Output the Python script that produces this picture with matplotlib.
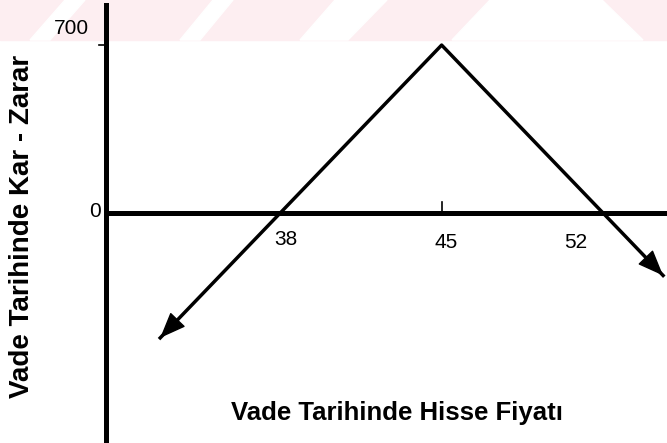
import matplotlib.pyplot as plt
from matplotlib.patches import Polygon, Rectangle

# payoff at expiry (butterfly-like)
price = [32.8, 38, 45, 52, 54.6]
profit = [-520, 0, 700, 0, -260]
xtick_vals = [38, 45, 52]
xtick_labels = ['38', '45', '52']
ytick_vals = [0, 700]
ytick_labels = ['0', '700']

plt.rcParams['font.family'] = ['Liberation Sans', 'DejaVu Sans']

W, H = 667, 443
fig = plt.figure(figsize=(W / 100, H / 100), dpi=100)


def px(x, y):
    return (x / W, 1 - y / H)


# faint pink watermark band at the top
pink = '#fdeef1'
fig.patches.append(Rectangle(px(0, 40), 1, 40 / H, transform=fig.transFigure,
                             color=pink, zorder=-5))
for b0, b1, t0, t1 in [(30, 50, 65, 85), (180, 200, 213, 233), (300, 348, 335, 387),
                       (452, 643, 490, 602)]:
    fig.patches.append(Polygon([px(b0, 40), px(b1, 40), px(t1, 0), px(t0, 0)],
                               closed=True, transform=fig.transFigure, color='white',
                               zorder=-4))

ax = fig.add_axes([106 / W, 0, 1 - 106 / W, (H - 5) / H])
ax.patch.set_alpha(0)
x0, x1 = 30.45, 54.77
ax.set_xlim(x0, x1)
ax.set_ylim(-958, 867)
for s in ['top', 'right', 'bottom']:
    ax.spines[s].set_visible(False)
ax.spines['left'].set_linewidth(3.6)
ax.set_xticks([])
ax.set_yticks([])

ax.axhline(0, color='black', lw=3.6, zorder=2)
ax.plot(price, profit, color='black', lw=2.5, zorder=3)

# arrow heads at both ends
head = '-|>,head_length=0.55,head_width=0.22'
ax.annotate('', xy=(price[0], profit[0]), xytext=(price[1], profit[1]),
            arrowprops=dict(arrowstyle=head, color='black', lw=1, mutation_scale=30,
                            shrinkA=0, shrinkB=0), zorder=4)
ax.annotate('', xy=(price[-1], profit[-1]), xytext=(price[-2], profit[-2]),
            arrowprops=dict(arrowstyle=head, color='black', lw=1, mutation_scale=30,
                            shrinkA=0, shrinkB=0), zorder=4)

# small tick marks
ax.plot([45, 45], [0, 45], color='black', lw=1.2)
ax.plot([x0 - 0.3, x0], [700, 700], color='black', lw=1.2, clip_on=False)

offsets = [(4, -12), (3, -14), (-20, -14)]
for v, lab, off in zip(xtick_vals, xtick_labels, offsets):
    ax.annotate(lab, xy=(v, 0), xytext=off, textcoords='offset points',
                ha='center', va='top', fontsize=15)
for v, lab, off in zip(ytick_vals, ytick_labels, [(-4, 1), (-12, 12)]):
    ax.annotate(lab, xy=(x0, v), xytext=off, textcoords='offset points',
                ha='right', va='center', fontsize=15)

fig.text(22 / W, 1 - 226 / H, 'Vade Tarihinde Kar - Zarar', rotation=90, ha='center',
         va='center', fontsize=20, fontweight='bold')
fig.text(397 / W, 1 - 413 / H, 'Vade Tarihinde Hisse Fiyatı', ha='center', va='center',
         fontsize=18.5, fontweight='bold')

fig.savefig('out.png', dpi=100)
